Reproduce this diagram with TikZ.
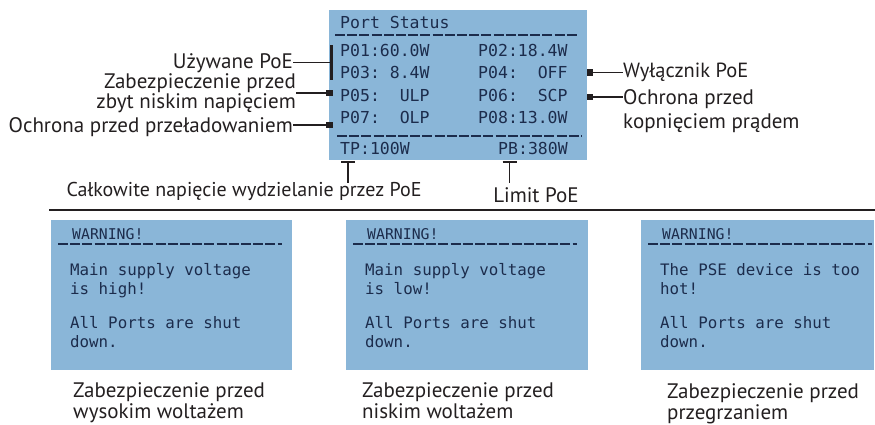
\documentclass[tikz,border=0pt]{standalone}
\usepackage{fontspec}
\setmainfont{PT Sans}
\newfontfamily\monofont{DejaVu Sans Mono}
\usetikzlibrary{calc}
\definecolor{lcdfill}{RGB}{138,182,216}
\definecolor{lcdtext}{RGB}{28,44,76}
\definecolor{lbltext}{RGB}{35,31,32}
\newcommand\blank{\hphantom{0}}
\tikzset{
  lcd/.style={fill=lcdfill, draw=none, inner sep=0, anchor=north west},
  lcdtxt/.style={text=lcdtext, font=\monofont\fontsize{16.5}{18}\selectfont, inner sep=0, anchor=base west},
  lcdsmall/.style={text=lcdtext, font=\monofont\fontsize{15.8}{18}\selectfont, inner sep=0, anchor=base west},
  warn/.style={text=lcdtext, font=\monofont\fontsize{14.8}{16}\selectfont, inner sep=0, anchor=base west},
  rulestyle/.style={draw=lcdtext, line width=1.2pt, dash pattern=on 10pt off 2.2pt},
  lbl/.style={font=\fontsize{21}{22}\selectfont, text=lbltext, inner sep=0},
  captext/.style={lbl, anchor=north west, align=left, font=\fontsize{21}{21}\selectfont},
  conn/.style={draw=lbltext, line width=1.8pt},
  sqm/.style={fill=lbltext, minimum size=6.5pt, inner sep=0},
  barm/.style={fill=lbltext, minimum width=2.2pt, minimum height=35pt, inner sep=0},
}
\begin{document}
\begin{tikzpicture}[x=1pt, y=-1pt]
\useasboundingbox (0,0) rectangle (875,425);

% ---------- top status box ----------
\node[lcd, minimum width=258pt, minimum height=150pt] (top) at (329,10) {};
\node[lcdtxt] (ps)  at (340,29)  {Port Status};
\draw[rulestyle] (335,35) -- (577,35);
\node[lcdtxt] (p01) at (340,57)  {P01:60.0W};
\node[lcdtxt] (p02) at (478,57)  {P02:18.4W};
\node[lcdtxt] (p03) at (340,79)  {P03:\blank8.4W};
\node[lcdtxt] (p04) at (478,79)  {P04:\blank\blank OFF};
\node[lcdtxt] (p05) at (340,102) {P05:\blank\blank ULP};
\node[lcdtxt] (p06) at (478,102) {P06:\blank\blank SCP};
\node[lcdtxt] (p07) at (340,124) {P07:\blank\blank OLP};
\node[lcdtxt] (p08) at (478,124) {P08:13.0W};
\draw[rulestyle] (337,136) -- (582,136);
\node[lcdtxt] (tp)  at (340,154) {TP:100W};
\node[lcdtxt] (pb)  at (498,154) {PB:380W};

% ---------- left annotations ----------
\node[barm] (bar1) at (331.5,62.5) {};
\node[lbl, anchor=base east] (uz) at (293,69) {Używane PoE};
\draw[conn] (bar1.center) -- (uz.east |- bar1.center);

\node[sqm] (sq1) at (329.5,93) {};
\node[lbl, anchor=east, align=right, font=\fontsize{21}{19.5}\selectfont] (zab) at (296,93) {Zabezpieczenie przed\\zbyt niskim napięciem};
\draw[conn] (sq1.center) -- (zab.east |- sq1.center);

\node[sqm] (sq2) at (329.5,125) {};
\node[lbl, anchor=base east] (ochr) at (293,132) {Ochrona przed przeładowaniem};
\draw[conn] (sq2.center) -- (ochr.east |- sq2.center);

% ---------- right annotations ----------
\node[sqm] (sq3) at (590,72.5) {};
\node[lbl, anchor=base west, font=\fontsize{20.5}{22}\selectfont] (wyl) at (623,78) {Wyłącznik PoE};
\draw[conn] (sq3.center) -- (wyl.west |- sq3.center);

\node[sqm] (sq4) at (590,97) {};
\node[lbl, anchor=west, align=left, font=\fontsize{21}{23.5}\selectfont] (kop) at (623,111) {Ochrona przed\\kopnięciem prądem};
\draw[conn] (sq4.center) -- (kop.west |- sq4.center);

% ---------- bottom annotations ----------
\coordinate (tpT) at (348,162);
\coordinate (pbT) at (509.5,162);
\node[lbl, anchor=base, font=\fontsize{20}{22}\selectfont] (calk) at (244,196) {Całkowite napięcie wydzielanie przez PoE};
\node[lbl, anchor=base] (lim) at (536,202) {Limit PoE};
\draw[conn] ([xshift=-7pt]tpT) -- ([xshift=7pt]tpT);
\draw[conn] (tpT) -- ++(0,21);
\draw[conn] ([xshift=-7pt]pbT) -- ([xshift=7pt]pbT);
\draw[conn] (pbT) -- ++(0,21);

% ---------- separator ----------
\draw[line width=1.2pt, lbltext] (49,210) -- (875,210);

% ---------- warning boxes ----------
\node[lcd, minimum width=241pt, minimum height=150pt] (w1) at (51,220) {};
\node[lcd, minimum width=242pt, minimum height=150pt] (w2) at (346,220) {};
\node[lcd, minimum width=233pt, minimum height=150pt] (w3) at (641,220) {};

\foreach \bx/\nm in {51/a, 346/b, 641/c}{
  \node[warn] (warn\nm) at (\bx+21,239) {WARNING!};
  \draw[rulestyle] (\bx+7,244) -- (\bx+231,244);
  \node[lcdsmall] (all\nm) at (\bx+19,328) {All Ports are shut};
  \node[lcdsmall] (down\nm) at (\bx+19,347) {down.};
}
\node[lcdsmall] (m1a) at (70,275) {Main supply voltage};
\node[lcdsmall] (m2a) at (70,294) {is high!};
\node[lcdsmall] (m1b) at (365,275) {Main supply voltage};
\node[lcdsmall] (m2b) at (365,294) {is low!};
\node[lcdsmall] (m1c) at (660,275) {The PSE device is too};
\node[lcdsmall] (m2c) at (660,294) {hot!};

% ---------- captions ----------
\node[captext] (cap1) at (73,382) {Zabezpieczenie przed\\wysokim woltażem};
\node[captext] (cap2) at (362,382) {Zabezpieczenie przed\\niskim woltażem};
\node[captext] (cap3) at (667,383) {Zabezpieczenie przed\\przegrzaniem};
\end{tikzpicture}
\end{document}
